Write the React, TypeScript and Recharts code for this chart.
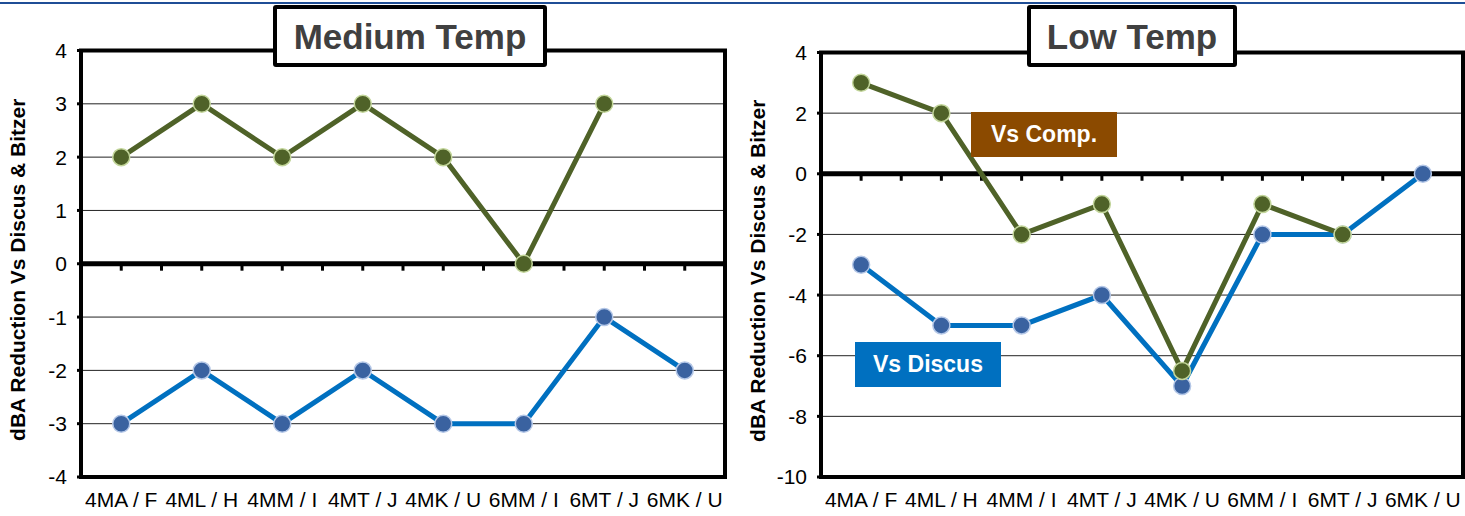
import React from 'react';
import { LineChart, Line, XAxis, YAxis, CartesianGrid, ReferenceLine, ReferenceArea, Label } from 'recharts';

const categories = ['4MA / F', '4ML / H', '4MM / I', '4MT / J', '4MK / U', '6MM / I', '6MT / J', '6MK / U'];
const mediumComp: (number | null)[] = [2, 3, 2, 3, 2, 0, 3, null];
const mediumDiscus: (number | null)[] = [-3, -2, -3, -2, -3, -3, -1, -2];
const lowComp: (number | null)[] = [3, 2, -2, -1, -6.5, -1, -2, null];
const lowDiscus: (number | null)[] = [-3, -5, -5, -4, -7, -2, -2, 0];
const mediumTicks = [-4, -3, -2, -1, 0, 1, 2, 3, 4];
const lowTicks = [-10, -8, -6, -4, -2, 0, 2, 4];
const yTitle = 'dBA Reduction Vs Discus & Bitzer';

const FONT = '"Liberation Sans", Arial, sans-serif';
const GREEN = '#4F6228';
const BLUE = '#0070C0';

type PanelProps = {
  comp: (number | null)[];
  discus: (number | null)[];
  yTicks: number[];
  width: number;
  margin: { top: number; right: number; bottom: number; left: number };
  tickDepth: number;
};

const Panel = ({ comp, discus, yTicks, width, margin, tickDepth }: PanelProps) => {
  const data = categories.map((c, i) => ({ x: i + 0.5, name: c, comp: comp[i], discus: discus[i] }));
  const n = categories.length;
  const yMin = yTicks[0];
  const yMax = yTicks[yTicks.length - 1];
  const zeroTicks = Array.from({ length: n * 2 - 1 }, (_, k) => (k + 1) / 2);
  const YTitle = (props: any) => {
    const vb = props.viewBox || { x: 0, y: 0, width: 0, height: 0 };
    const x = vb.x - 4;
    const y = vb.y + vb.height / 2 + 6;
    return (
      <text
        x={x}
        y={y}
        transform={`rotate(-90 ${x} ${y})`}
        textAnchor="middle"
        dominantBaseline="central"
        fontFamily={FONT}
        fontWeight="bold"
        fontSize={21}
        fill="#000"
      >
        {yTitle}
      </text>
    );
  };
  return (
    <LineChart width={width} height={516} data={data} margin={margin}>
      <CartesianGrid vertical={false} stroke="#222" strokeWidth={1} />
      <XAxis
        type="number"
        dataKey="x"
        domain={[0, n]}
        ticks={data.map((d) => d.x)}
        tickFormatter={(v: number) => categories[Math.floor(v)]}
        axisLine={false}
        tickLine={false}
        tickSize={0}
        tickMargin={15}
        height={39}
        interval={0}
        tick={{ fontSize: 21, fill: '#000', fontFamily: FONT }}
      />
      <YAxis
        type="number"
        domain={[yMin, yMax]}
        ticks={yTicks}
        interval={0}
        width={60}
        axisLine={false}
        tickLine={{ stroke: '#000', strokeWidth: 3 }}
        tickSize={4}
        tickMargin={10}
        tick={{ fontSize: 21, fill: '#000', fontFamily: FONT }}
      >
        <Label content={YTitle} />
      </YAxis>
      <ReferenceLine y={0} stroke="#000" strokeWidth={5} />
      {zeroTicks.map((x) => (
        <ReferenceLine
          key={x}
          segment={[{ x, y: 0 }, { x, y: -tickDepth }]}
          stroke="#000"
          strokeWidth={3}
          ifOverflow="visible"
        />
      ))}
      <ReferenceArea x1={0} x2={n} y1={yMin} y2={yMax} fill="none" fillOpacity={0} stroke="#000" strokeWidth={4} />
      <Line
        type="linear"
        dataKey="discus"
        stroke={BLUE}
        strokeWidth={5}
        dot={{ r: 8.5, fill: '#3A62A0', stroke: '#B4C7E7', strokeWidth: 1.5 }}
        isAnimationActive={false}
        connectNulls={false}
      />
      <Line
        type="linear"
        dataKey="comp"
        stroke={GREEN}
        strokeWidth={5}
        dot={{ r: 8.5, fill: GREEN, stroke: '#C3D69B', strokeWidth: 1.5 }}
        isAnimationActive={false}
        connectNulls={false}
      />
    </LineChart>
  );
};

const titleBox = (left: number, width: number, text: string) => (
  <div
    style={{
      position: 'absolute',
      left,
      top: 5,
      width,
      height: 62,
      boxSizing: 'border-box',
      border: '4px solid #000',
      borderRadius: 3,
      background: '#fff',
      display: 'flex',
      alignItems: 'center',
      justifyContent: 'center',
      fontFamily: FONT,
      fontWeight: 'bold',
      fontSize: 35,
      color: '#404040',
      lineHeight: 1,
    }}
  >
    {text}
  </div>
);

const legendBox = (left: number, top: number, bg: string, text: string) => (
  <div
    style={{
      position: 'absolute',
      left,
      top,
      width: 146,
      height: 45,
      background: bg,
      color: '#fff',
      display: 'flex',
      alignItems: 'center',
      justifyContent: 'center',
      fontFamily: FONT,
      fontWeight: 'bold',
      fontSize: 23,
      lineHeight: 1,
    }}
  >
    {text}
  </div>
);

export default function App() {
  return (
    <div style={{ position: 'absolute', left: 0, top: 0, width: 1465, height: 516, background: '#fff', overflow: 'hidden' }}>
      <div style={{ position: 'absolute', left: 0, top: 2, width: 1465, height: 2, background: '#1F4E96' }} />
      <div style={{ position: 'absolute', left: 0, top: 0 }}>
        <Panel
          comp={mediumComp}
          discus={mediumDiscus}
          yTicks={mediumTicks}
          width={740}
          margin={{ top: 50.5, right: 15, bottom: 0, left: 21 }}
          tickDepth={0.13}
        />
      </div>
      <div style={{ position: 'absolute', left: 740, top: 0 }}>
        <Panel
          comp={lowComp}
          discus={lowDiscus}
          yTicks={lowTicks}
          width={725}
          margin={{ top: 52.5, right: 2, bottom: 0, left: 21 }}
          tickDepth={0.23}
        />
      </div>
      {titleBox(273, 274, 'Medium Temp')}
      {titleBox(1027, 210, 'Low Temp')}
      {legendBox(971, 112, '#8B4A00', 'Vs Comp.')}
      {legendBox(855, 342, BLUE, 'Vs Discus')}
    </div>
  );
}
